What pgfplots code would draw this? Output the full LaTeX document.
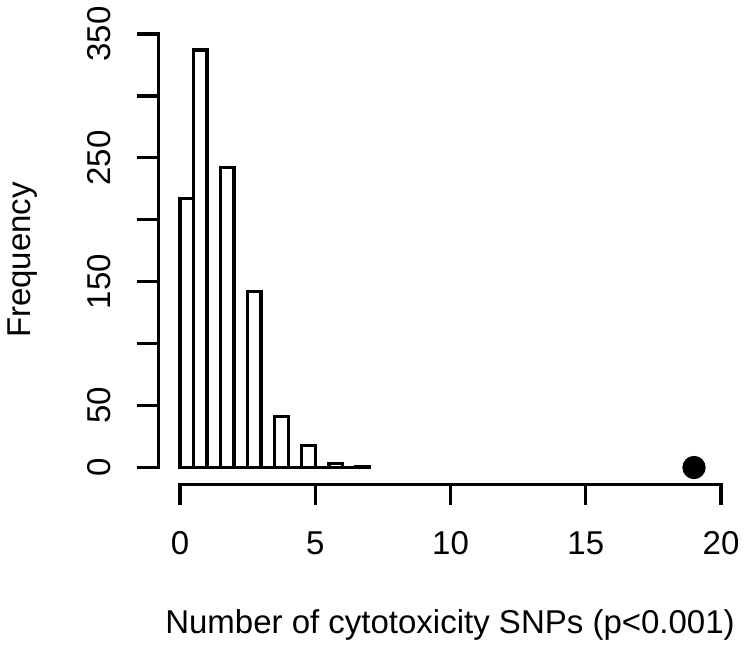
\documentclass[border=0pt]{standalone}
\usepackage{pgfplots}
\pgfplotsset{compat=1.18}
\usepackage{fontspec}
\setmainfont{Liberation Sans}
\begin{document}
\begin{tikzpicture}[every node/.style={font=\fontsize{16.5}{19.5}\selectfont, inner sep=0pt, outer sep=0pt}]
\begin{axis}[
  at={(0pt,0pt)}, anchor=south west,
  width=292.15pt, height=234.1pt, scale only axis,
  xmin=-0.8, xmax=20.8, ymin=-14, ymax=364,
  hide axis, clip=false,
]
\addplot[ybar interval, fill=white, draw=black, line width=1.7pt] coordinates {
 (0,217) (0.5,337) (1,0) (1.5,242) (2,0) (2.5,142) (3,0) (3.5,41) (4,0) (4.5,18) (5,0) (5.5,3) (6,0) (6.5,1) (7,0)
};
\addplot[only marks, mark=*, mark size=5.6pt, black] coordinates {(19,0)};
% x axis
\draw[line width=1.6pt, line cap=rect] (axis cs:0,-14) -- (axis cs:20,-14);
\pgfplotsinvokeforeach{0,5,10,15,20}{
  \draw[line width=1.6pt] (axis cs:#1,-14) -- (axis cs:#1,-30.1);
  \node[anchor=base] at (axis cs:#1,-70.6) {#1};
}
% y axis
\draw[line width=1.6pt, line cap=rect] (axis cs:-0.8,0) -- (axis cs:-0.8,350);
\pgfplotsinvokeforeach{0,50,100,150,200,250,300,350}{
  \draw[line width=1.6pt] (axis cs:-0.8,#1) -- (axis cs:-1.576,#1);
}
\pgfplotsinvokeforeach{0,50,150,250,350}{
  \node[anchor=base, rotate=90] at (axis cs:-2.588,#1) {#1};
}
\node[anchor=base] at (axis cs:9.98,-134.4) {Number of cytotoxicity SNPs (p<0.001)};
\node[anchor=base, rotate=90] at (axis cs:-5.52,167.5) {Frequency};
\end{axis}
\pgfresetboundingbox
\useasboundingbox (-79.2pt,-82.58pt) rectangle (293.3pt,242.42pt);
\end{tikzpicture}
\end{document}
